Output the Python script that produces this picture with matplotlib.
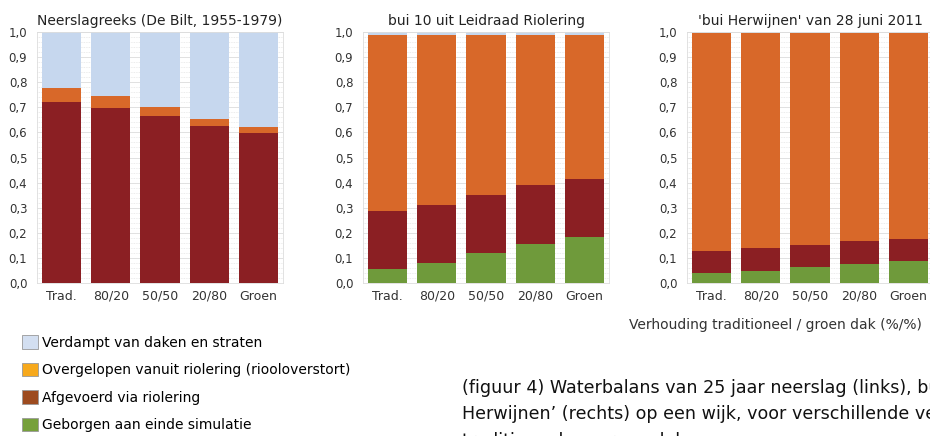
import matplotlib
matplotlib.use("Agg")
import matplotlib.pyplot as plt
from matplotlib.patches import Patch
import numpy as np

categories = ["Trad.", "80/20", "50/50", "20/80", "Groen"]

titles = ["Neerslagreeks (De Bilt, 1955-1979)",
          "bui 10 uit Leidraad Riolering",
          "'bui Herwijnen' van 28 juni 2011"]

# Panel 1: Neerslagreeks
p1_geborgen = [0.0, 0.0, 0.0, 0.0, 0.0]
p1_afgevoerd = [0.720, 0.698, 0.665, 0.625, 0.599]
p1_overgelopen = [0.058, 0.048, 0.035, 0.028, 0.022]
p1_verdampt = [0.222, 0.254, 0.300, 0.347, 0.379]

# Panel 2: bui 10
p2_geborgen = [0.057, 0.081, 0.118, 0.155, 0.182]
p2_afgevoerd = [0.231, 0.231, 0.232, 0.234, 0.231]
p2_overgelopen = [0.702, 0.678, 0.640, 0.601, 0.577]
p2_verdampt = [0.010, 0.010, 0.010, 0.010, 0.010]

# Panel 3: bui Herwijnen
p3_geborgen = [0.039, 0.048, 0.063, 0.076, 0.088]
p3_afgevoerd = [0.088, 0.090, 0.088, 0.091, 0.088]
p3_overgelopen = [0.869, 0.858, 0.845, 0.829, 0.820]
p3_verdampt = [0.004, 0.004, 0.004, 0.004, 0.004]

yticks = [0.0, 0.1, 0.2, 0.3, 0.4, 0.5, 0.6, 0.7, 0.8, 0.9, 1.0]
ytick_labels = ["0,0", "0,1", "0,2", "0,3", "0,4", "0,5", "0,6", "0,7", "0,8", "0,9", "1,0"]

legend_labels = ["Verdampt van daken en straten",
                 "Overgelopen vanuit riolering (riooloverstort)",
                 "Afgevoerd via riolering",
                 "Geborgen aan einde simulatie"]

xlabel = "Verhouding traditioneel / groen dak (%/%)"
caption = ("(figuur 4) Waterbalans van 25 jaar neerslag (links), bui 10 (midden) en 'bui\n"
           "Herwijnen\u2019 (rechts) op een wijk, voor verschillende verhoudingen\n"
           "traditioneel en groen dak")

bar_colors = {"geborgen": "#6f9a3b", "afgevoerd": "#8b1f23",
              "overgelopen": "#d86829", "verdampt": "#c6d7ee"}
legend_colors = ["#d3dff1", "#f7a91c", "#9d4b1f", "#76a03b"]

panels = [
    (p1_geborgen, p1_afgevoerd, p1_overgelopen, p1_verdampt),
    (p2_geborgen, p2_afgevoerd, p2_overgelopen, p2_verdampt),
    (p3_geborgen, p3_afgevoerd, p3_overgelopen, p3_verdampt),
]

plt.rcParams['font.family'] = ['DejaVu Sans']

fig = plt.figure(figsize=(9.3, 4.36), dpi=100)
W, H = 930, 436
lefts = [37, 363, 687]
top, bottom = 32, 283
width_px = 246

x = np.arange(len(categories))
for i, (geb, afg, ovg, ver) in enumerate(panels):
    ax = fig.add_axes([lefts[i] / W, (H - bottom) / H, width_px / W, (bottom - top) / H])
    ax.set_axisbelow(True)
    ax.set_yticks(np.arange(0, 1.001, 0.02), minor=True)
    ax.grid(True, which='minor', axis='y', color='#e6e6e6', linewidth=0.6, linestyle=(0, (1, 1)))
    ax.grid(True, which='major', axis='y', color='#dcdcdc', linewidth=0.6)
    b0 = np.zeros(len(categories))
    for vals, key in [(geb, "geborgen"), (afg, "afgevoerd"), (ovg, "overgelopen"), (ver, "verdampt")]:
        ax.bar(x, vals, width=0.8, bottom=b0, color=bar_colors[key], linewidth=0)
        b0 = b0 + np.array(vals)
    ax.set_xlim(-0.5, len(categories) - 0.5)
    ax.set_ylim(0, 1.0)
    ax.set_yticks(yticks)
    ax.set_yticklabels(ytick_labels)
    ax.set_xticks(x)
    ax.set_xticklabels(categories)
    ax.tick_params(axis='both', which='both', length=0, colors='#333333')
    ax.tick_params(axis='y', pad=7, labelsize=8.5)
    ax.tick_params(axis='x', pad=5, labelsize=9)
    for s in ax.spines.values():
        s.set_color('#dddddd')
        s.set_linewidth(0.6)
    ax.set_title(titles[i], fontsize=10, color='#222222', pad=5)

handles = [Patch(facecolor=c, edgecolor='#999999', linewidth=0.6) for c in legend_colors]
fig.legend(handles, legend_labels, loc='upper left', bbox_to_anchor=(22 / W, 1 - 335 / H),
           frameon=False, fontsize=10, handlelength=1.15, handleheight=1.15,
           handletextpad=0.3, labelspacing=0.93, borderaxespad=0, borderpad=0)

fig.text(922 / W, 1 - 325 / H, xlabel, ha='right', va='center', fontsize=10, color='#333333')

fig.text(462 / W, 1 - 379 / H, caption, ha='left', va='top', fontsize=12.6,
         color='#111111', linespacing=1.6)

fig.savefig("out.png", dpi=100)
